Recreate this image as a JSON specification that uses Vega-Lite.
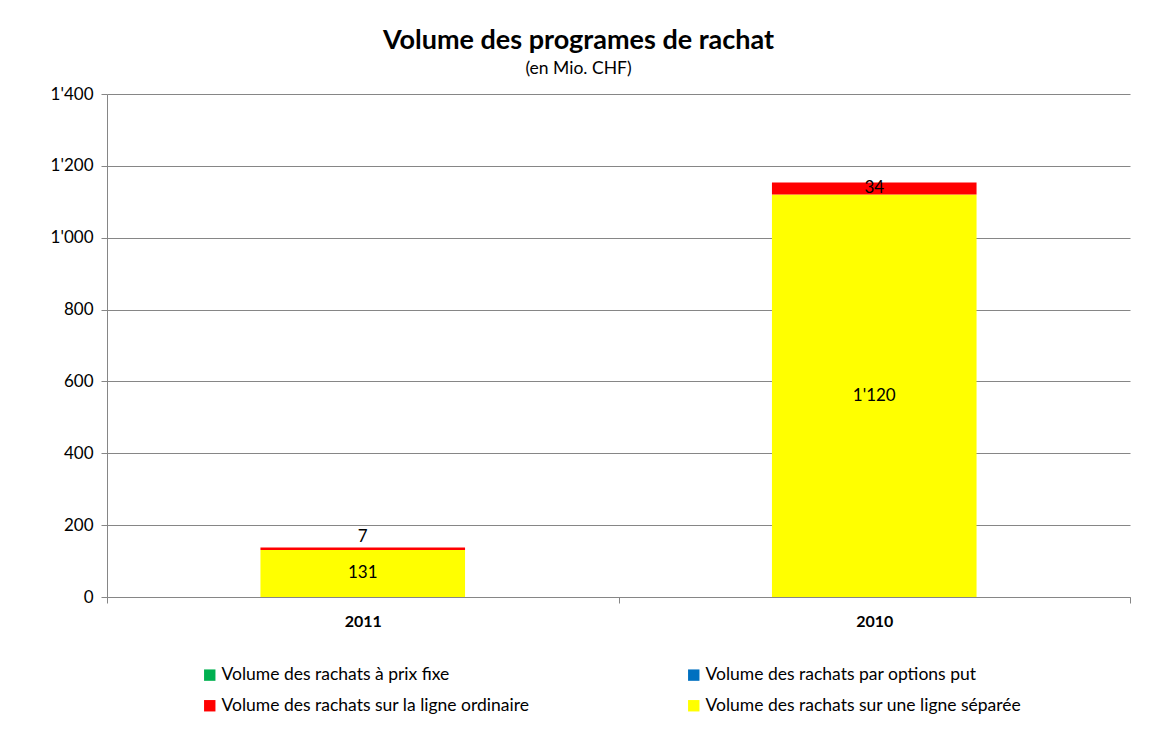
{
  "$schema": "https://vega.github.io/schema/vega-lite/v6.json",
  "width": 1023,
  "height": 503,
  "autosize": {"type": "none"},
  "padding": {"left": 107, "top": 94, "right": 42, "bottom": 159},
  "background": "white",
  "config": {
    "font": "Lato",
    "view": {"stroke": null},
    "locale": {"number": {"decimal": ".", "thousands": "'", "grouping": [3], "currency": ["", ""]}}
  },
  "title": {
    "text": "Volume des programes de rachat",
    "subtitle": "(en Mio. CHF)",
    "anchor": "middle",
    "dx": -40,
    "fontSize": 27,
    "fontWeight": "bold",
    "color": "#000000",
    "subtitleFontSize": 17.5,
    "subtitleColor": "#000000",
    "subtitlePadding": 5,
    "offset": 7
  },
  "data": {
    "values": [
      {"annee": "2011", "serie": "Volume des rachats sur une ligne séparée", "valeur": 131},
      {"annee": "2011", "serie": "Volume des rachats sur la ligne ordinaire", "valeur": 7},
      {"annee": "2010", "serie": "Volume des rachats sur une ligne séparée", "valeur": 1120},
      {"annee": "2010", "serie": "Volume des rachats sur la ligne ordinaire", "valeur": 34}
    ]
  },
  "transform": [
    {"stack": "valeur", "groupby": ["annee"], "as": ["y0", "y1"], "sort": [{"field": "serie", "order": "descending"}]},
    {"calculate": "(datum.y1 - datum.y0) < 20 ? datum.y1 + 30 : (datum.y0 + datum.y1) / 2", "as": "ylab"}
  ],
  "encoding": {
    "x": {
      "field": "annee",
      "type": "nominal",
      "sort": ["2011", "2010"],
      "scale": {"paddingInner": 0, "paddingOuter": 0},
      "axis": {
        "title": null,
        "labelAngle": 0,
        "labelFont": "Lato",
        "labelFontSize": 16,
        "labelFontWeight": "bold",
        "labelColor": "#000000",
        "labelPadding": 10,
        "tickBand": "extent",
        "tickColor": "#868686",
        "tickSize": 6,
        "domainColor": "#868686"
      }
    }
  },
  "layer": [
    {
      "mark": {"type": "bar", "width": {"band": 0.4}},
      "encoding": {
        "y": {
          "field": "y0",
          "type": "quantitative",
          "scale": {"domain": [0, 1400]},
          "axis": {
            "title": null,
            "values": [0, 200, 400, 600, 800, 1000, 1200, 1400],
            "format": ",d",
            "labelFont": "Lato",
            "labelFontSize": 17,
            "labelColor": "#000000",
            "labelPadding": 8,
            "grid": true,
            "gridColor": "#868686",
            "tickColor": "#868686",
            "tickSize": 6,
            "domainColor": "#868686"
          }
        },
        "y2": {"field": "y1"},
        "color": {
          "field": "serie",
          "type": "nominal",
          "scale": {
            "domain": [
              "Volume des rachats à prix fixe",
              "Volume des rachats par options put",
              "Volume des rachats sur la ligne ordinaire",
              "Volume des rachats sur une ligne séparée"
            ],
            "range": ["#00B050", "#0070C0", "#FF0000", "#FFFF00"]
          },
          "legend": {
            "title": null,
            "orient": "none",
            "legendX": 94,
            "legendY": 572,
            "direction": "horizontal",
            "columns": 2,
            "columnPadding": 155,
            "rowPadding": 12,
            "symbolType": "square",
            "symbolSize": 130,
            "symbolStrokeWidth": 0,
            "labelFont": "Lato",
            "labelFontSize": 17.5,
            "labelColor": "#000000",
            "labelOffset": 3,
            "labelLimit": 400
          }
        }
      }
    },
    {
      "mark": {"type": "text", "font": "Lato", "fontSize": 17, "color": "#000000", "baseline": "middle"},
      "encoding": {
        "y": {"field": "ylab", "type": "quantitative"},
        "text": {"field": "valeur", "type": "quantitative", "format": ",d"}
      }
    }
  ]
}
